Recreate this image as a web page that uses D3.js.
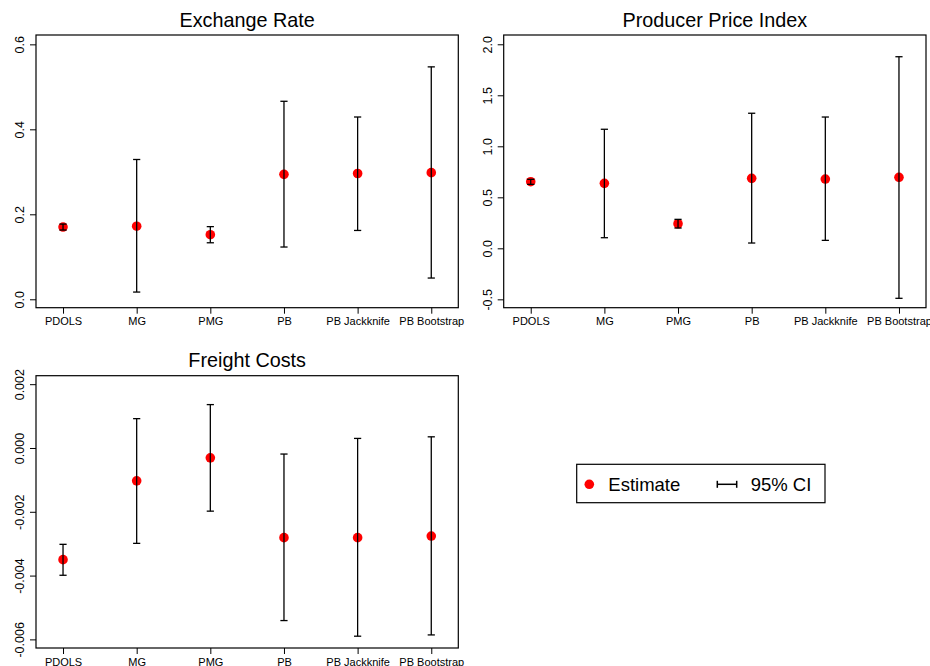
<!DOCTYPE html>
<html>
<head>
<meta charset="utf-8">
<script src="https://cdn.jsdelivr.net/npm/d3@7"></script>
<style>
  body { margin: 0; background: #fff; overflow: hidden; }
  text { font-family: "Liberation Sans", Arial, sans-serif; fill: #000; }
</style>
</head>
<body>
<div id="cnv"></div>
<script>
var methods = ["PDOLS", "MG", "PMG", "PB", "PB Jackknife", "PB Bootstrap"];

// Exchange Rate
var exchEst = [0.170, 0.172, 0.152, 0.294, 0.296, 0.298];
var exchLo  = [0.163, 0.017, 0.133, 0.123, 0.162, 0.050];
var exchHi  = [0.177, 0.329, 0.171, 0.466, 0.429, 0.547];
var exchTicks = [0.0, 0.2, 0.4, 0.6];

// Producer Price Index
var ppiEst = [0.653, 0.637, 0.241, 0.686, 0.679, 0.696];
var ppiLo  = [0.627, 0.104, 0.199, 0.052, 0.078, -0.490];
var ppiHi  = [0.676, 1.167, 0.284, 1.324, 1.287, 1.878];
var ppiTicks = [-0.5, 0.0, 0.5, 1.0, 1.5, 2.0];

// Freight Costs
var frEst = [-0.00350, -0.00103, -0.00031, -0.00281, -0.00281, -0.00276];
var frLo  = [-0.00399, -0.00299, -0.00198, -0.00541, -0.00590, -0.00586];
var frHi  = [-0.00302, 0.00092, 0.00136, -0.00019, 0.00030, 0.00035];
var frTicks = [-0.006, -0.004, -0.002, 0.000, 0.002];

var width = 930, height = 666;

var svg = d3.select("#cnv").append("svg")
  .attr("width", width)
  .attr("height", height);

function rows(est, lo, hi) {
  return methods.map(function(m, i) {
    return {method: m, idx: i + 1, est: est[i], lo: lo[i], hi: hi[i]};
  });
}

var panels = [
  {title: "Exchange Rate", box: {l: 36, r: 458.3, t: 35, b: 307.7},
   ydom: [-0.0198, 0.622], ticks: exchTicks, fmt: ".1f", data: rows(exchEst, exchLo, exchHi)},
  {title: "Producer Price Index", box: {l: 503.7, r: 926, t: 35, b: 307.7},
   ydom: [-0.582, 2.091], ticks: ppiTicks, fmt: ".1f", data: rows(ppiEst, ppiLo, ppiHi)},
  {title: "Freight Costs", box: {l: 36, r: 458.3, t: 375.7, b: 648},
   ydom: [-0.00627, 0.002266], ticks: frTicks, fmt: ".3f", data: rows(frEst, frLo, frHi)}
];

panels.forEach(function(p) {
  var w = p.box.r - p.box.l, h = p.box.b - p.box.t;
  var g = svg.append("g")
    .attr("transform", "translate(" + p.box.l + "," + p.box.t + ")");

  var xScale = d3.scaleLinear().domain([1 - 0.367, 6 + 0.367]).range([0, w]);
  var yScale = d3.scaleLinear().domain(p.ydom).range([h, 0]);
  var f = d3.format(p.fmt);

  //y axis, labels rotated like base R
  var yAxis = g.append("g")
    .call(d3.axisLeft(yScale).tickValues(p.ticks).tickSize(6)
      .tickFormat(function(d) { return f(d).replace("\u2212", "-"); }));
  yAxis.select(".domain").remove();
  yAxis.selectAll("line").attr("stroke", "#000");
  yAxis.selectAll("text")
    .attr("x", 0).attr("y", -12).attr("dy", null)
    .attr("transform", "rotate(-90)")
    .attr("text-anchor", "middle")
    .style("font-size", "12.5px")
    .style("font-family", "Liberation Sans, Arial, sans-serif");

  //x axis
  var xAxis = g.append("g")
    .attr("transform", "translate(0," + h + ")")
    .call(d3.axisBottom(xScale).tickValues(d3.range(1, 7)).tickSize(6)
      .tickFormat(function(d) { return methods[d - 1]; }));
  xAxis.select(".domain").remove();
  xAxis.selectAll("line").attr("stroke", "#000");
  xAxis.selectAll("text")
    .attr("y", 17.5).attr("dy", null)
    .style("font-size", "11px")
    .style("font-family", "Liberation Sans, Arial, sans-serif");

  //box
  g.append("rect")
    .attr("width", w).attr("height", h)
    .attr("fill", "none").attr("stroke", "#000").attr("stroke-width", 1.2);

  //title
  g.append("text")
    .attr("x", w / 2).attr("y", -8.5)
    .attr("text-anchor", "middle")
    .style("font-size", "19.8px")
    .text(p.title);

  //points
  g.selectAll("circle").data(p.data).enter().append("circle")
    .attr("cx", function(d) { return xScale(d.idx); })
    .attr("cy", function(d) { return yScale(d.est); })
    .attr("r", 4.8)
    .attr("fill", "#ff0000");

  //error bars on top
  var bars = g.selectAll(".bar").data(p.data).enter().append("g")
    .attr("class", "bar")
    .attr("stroke", "#000").attr("stroke-width", 1.3);
  bars.append("line")
    .attr("x1", function(d) { return xScale(d.idx); })
    .attr("x2", function(d) { return xScale(d.idx); })
    .attr("y1", function(d) { return yScale(d.lo); })
    .attr("y2", function(d) { return yScale(d.hi); });
  ["lo", "hi"].forEach(function(k) {
    bars.append("line")
      .attr("x1", function(d) { return xScale(d.idx) - 3.6; })
      .attr("x2", function(d) { return xScale(d.idx) + 3.6; })
      .attr("y1", function(d) { return yScale(d[k]); })
      .attr("y2", function(d) { return yScale(d[k]); });
  });
});

//legend
var leg = svg.append("g").attr("transform", "translate(576.7,464.3)");
leg.append("rect")
  .attr("width", 248.3).attr("height", 38.4)
  .attr("fill", "none").attr("stroke", "#000").attr("stroke-width", 1.2);
leg.append("circle").attr("cx", 12.6).attr("cy", 20).attr("r", 4.8).attr("fill", "#ff0000");
leg.append("text").attr("x", 31.6).attr("y", 26.5).style("font-size", "18.5px").text("Estimate");
var ci = leg.append("g").attr("stroke", "#000").attr("stroke-width", 1.5);
ci.append("line").attr("x1", 140.6).attr("x2", 160).attr("y1", 20).attr("y2", 20);
ci.append("line").attr("x1", 140.6).attr("x2", 140.6).attr("y1", 16.5).attr("y2", 23.5);
ci.append("line").attr("x1", 160).attr("x2", 160).attr("y1", 16.5).attr("y2", 23.5);
leg.append("text").attr("x", 174).attr("y", 26.5).style("font-size", "18.5px").text("95% CI");
</script>
</body>
</html>
